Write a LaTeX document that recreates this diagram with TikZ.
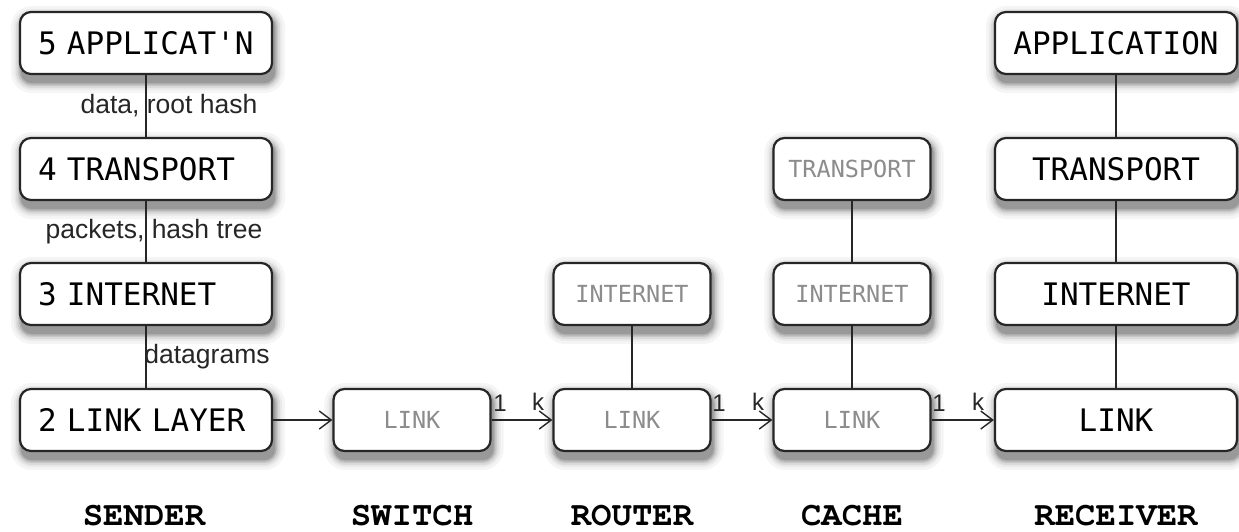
\documentclass[tikz,border=0pt]{standalone}
\usepackage{fontspec}
\setmainfont{Liberation Sans}
\newfontfamily\boxfont{DejaVu Sans Mono}
\newcommand\capfont{\fontencoding{T1}\fontfamily{pcr}\fontseries{b}\selectfont}
\usetikzlibrary{arrows.meta,backgrounds}
\begin{document}
\begin{tikzpicture}[x=1pt,y=-1pt,
  layerbox/.style={draw=black!85, line width=2.2pt, rounded corners=11pt, fill=white,
    minimum height=62pt, inner sep=0pt},
  bigbox/.style={layerbox, minimum width=252pt, font=\boxfont\fontsize{31}{33}\selectfont},
  sendbox/.style={bigbox, text width=216pt, align=left},
  recvbox/.style={layerbox, minimum width=242pt, font=\boxfont\fontsize{31}{33}\selectfont},
  smallbox/.style={layerbox, minimum width=157pt, font=\boxfont\fontsize{23.5}{25}\selectfont, text=black!45},
  conn/.style={line width=1.4pt, draw=black!85},
  flow/.style={line width=1.4pt, draw=black!85, -{Straight Barb[length=12pt,width=18pt,line width=1.4pt]}},
  lab/.style={font=\fontsize{26.5}{28}\selectfont, text=black!85, inner sep=0pt},
  portlab/.style={font=\fontsize{24}{25}\selectfont, text=black!85, inner sep=0pt},
  caption/.style={font=\capfont\fontsize{34}{36}\selectfont, inner sep=0pt, anchor=base}
]
\useasboundingbox (0,0) rectangle (1239,531);
% sender
\node[sendbox] (s5) at (146,43) {5 APPLICAT'N};
\node[sendbox] (s4) at (146,169) {4 TRANSPORT};
\node[sendbox] (s3) at (146,294) {3 INTERNET};
\node[sendbox] (s2) at (146,420) {2 LINK LAYER};
% switch
\node[smallbox] (swl) at (412,420) {LINK};
% router
\node[smallbox] (rti) at (632,294) {INTERNET};
\node[smallbox] (rtl) at (632,420) {LINK};
% cache
\node[smallbox] (cat) at (852,169) {TRANSPORT};
\node[smallbox] (cai) at (852,294) {INTERNET};
\node[smallbox] (cal) at (852,420) {LINK};
% receiver
\node[recvbox] (ra) at (1116,43) {APPLICATION};
\node[recvbox] (rt) at (1116,169) {TRANSPORT};
\node[recvbox] (ri) at (1116,294) {INTERNET};
\node[recvbox] (rl) at (1116,420) {LINK};
% soft drop shadows behind the boxes: one path per shade level
\begin{scope}[on background layer]
\foreach \e/\c in {10/4,7/8,5/14,3/22,1.5/31,0/40}{
  \fill[black!\c, rounded corners={11pt+\e pt}]
    \foreach \n in {s5,s4,s3,s2,swl,rti,rtl,cat,cai,cal,ra,rt,ri,rl}{
      ([shift={(2-\e,5-\e)}]\n.north west) rectangle ([shift={(2+\e,8+\e)}]\n.south east)
    };
}
\end{scope}
% vertical connectors
\draw[conn] (s5) -- (s4);
\draw[conn] (s4) -- (s3);
\draw[conn] (s3) -- (s2);
\draw[conn] (rti) -- (rtl);
\draw[conn] (cat) -- (cai);
\draw[conn] (cai) -- (cal);
\draw[conn] (ra) -- (rt);
\draw[conn] (rt) -- (ri);
\draw[conn] (ri) -- (rl);
% connector labels
\node[lab] (l54) at (169,106) {data, root hash};
\node[lab] (l43) at (154,232) {packets, hash tree};
\node[lab] (l32) at (207,357) {datagrams};
% horizontal flow
\draw[flow] (s2) -- (swl);
\draw[flow] (swl) -- (rtl);
\draw[flow] (rtl) -- (cal);
\draw[flow] (cal) -- (rl);
% port labels
\node[portlab] (p1a) at (500,403) {1};
\node[portlab] (pka) at (538,402) {k};
\node[portlab] (p1b) at (719,403) {1};
\node[portlab] (pkb) at (758,402) {k};
\node[portlab] (p1c) at (939,403) {1};
\node[portlab] (pkc) at (978,402) {k};
% captions
\node[caption] (c1) at (144,525) {SENDER};
\node[caption] (c2) at (412,525) {SWITCH};
\node[caption] (c3) at (632,525) {ROUTER};
\node[caption] (c4) at (852,525) {CACHE};
\node[caption] (c5) at (1116,525) {RECEIVER};
\end{tikzpicture}
\end{document}
